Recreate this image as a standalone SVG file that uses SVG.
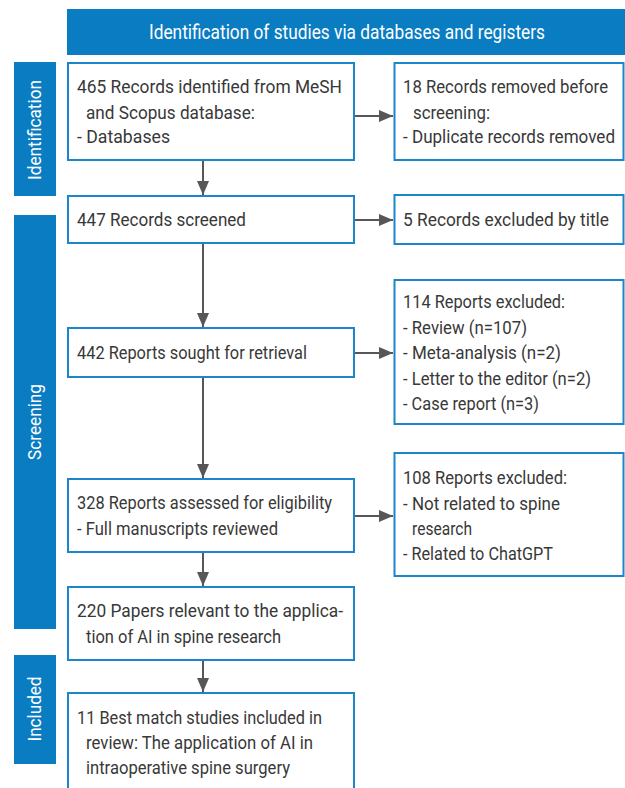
<svg xmlns="http://www.w3.org/2000/svg" width="625" height="788" viewBox="0 0 625 788">
<style>
.bar{fill:#0a7cc2}
.box{fill:#fff;stroke:#1b87ca;stroke-width:2}
.t{font-family:Roboto,"Liberation Sans",sans-serif;font-size:19px;fill:#383838}
.w{font-family:Roboto,"Liberation Sans",sans-serif;fill:#fff}
.c{fill:none;stroke:#575757;stroke-width:2}
</style>
<defs>
<marker id="ah" viewBox="0 0 14 12" refX="14" refY="6" markerWidth="14" markerHeight="12" markerUnits="userSpaceOnUse" orient="auto">
<path d="M0,0 L14,6 L0,12 z" fill="#575757"/>
</marker>
</defs>
<rect width="625" height="788" fill="#fff"/>

<g id="header">
<rect class="bar" x="67" y="9" width="558" height="46"/>
<text class="w" x="149" y="39" font-size="20" textLength="396" lengthAdjust="spacingAndGlyphs">Identification of studies via databases and registers</text>
</g>

<g id="phase-identification">
<rect class="bar" x="14" y="62" width="42" height="134"/>
<text class="w" transform="translate(41,130) rotate(-90)" text-anchor="middle" font-size="19" textLength="100" lengthAdjust="spacingAndGlyphs">Identification</text>
</g>
<g id="phase-screening">
<rect class="bar" x="14" y="215" width="42" height="414"/>
<text class="w" transform="translate(41,422) rotate(-90)" text-anchor="middle" font-size="19" textLength="76" lengthAdjust="spacingAndGlyphs">Screening</text>
</g>
<g id="phase-included">
<rect class="bar" x="14" y="655" width="42" height="109"/>
<text class="w" transform="translate(41,709) rotate(-90)" text-anchor="middle" font-size="19" textLength="65" lengthAdjust="spacingAndGlyphs">Included</text>
</g>

<g id="connectors">
<line class="c" x1="203" y1="160" x2="203" y2="195" marker-end="url(#ah)"/>
<line class="c" x1="203" y1="243" x2="203" y2="327" marker-end="url(#ah)"/>
<line class="c" x1="203" y1="377" x2="203" y2="478" marker-end="url(#ah)"/>
<line class="c" x1="203" y1="552" x2="203" y2="586" marker-end="url(#ah)"/>
<line class="c" x1="203" y1="660" x2="203" y2="692" marker-end="url(#ah)"/>
<line class="c" x1="354" y1="116" x2="393" y2="116" marker-end="url(#ah)"/>
<line class="c" x1="354" y1="220" x2="393" y2="220" marker-end="url(#ah)"/>
<line class="c" x1="354" y1="353" x2="393" y2="353" marker-end="url(#ah)"/>
<line class="c" x1="354" y1="516" x2="393" y2="516" marker-end="url(#ah)"/>
</g>

<g id="records-identified">
<rect class="box" x="68" y="63" width="286" height="97"/>
<text class="t" x="77" y="93" textLength="265" lengthAdjust="spacingAndGlyphs">465 Records identified from MeSH</text>
<text class="t" x="86" y="119" textLength="169" lengthAdjust="spacingAndGlyphs">and Scopus database:</text>
<text class="t" x="77" y="143" textLength="93" lengthAdjust="spacingAndGlyphs">- Databases</text>
</g>
<g id="records-removed">
<rect class="box" x="394.5" y="63" width="229" height="97"/>
<text class="t" x="403" y="93" textLength="205" lengthAdjust="spacingAndGlyphs">18 Records removed before</text>
<text class="t" x="413" y="119" textLength="77" lengthAdjust="spacingAndGlyphs">screening:</text>
<text class="t" x="403" y="143" textLength="212" lengthAdjust="spacingAndGlyphs">- Duplicate records removed</text>
</g>
<g id="records-screened">
<rect class="box" x="68" y="196" width="286" height="47"/>
<text class="t" x="77" y="226" textLength="169" lengthAdjust="spacingAndGlyphs">447 Records screened</text>
</g>
<g id="records-excluded">
<rect class="box" x="394.5" y="195" width="229" height="49"/>
<text class="t" x="403" y="226" textLength="206" lengthAdjust="spacingAndGlyphs">5 Records excluded by title</text>
</g>
<g id="reports-sought">
<rect class="box" x="68" y="328" width="286" height="49"/>
<text class="t" x="77" y="359" textLength="230" lengthAdjust="spacingAndGlyphs">442 Reports sought for retrieval</text>
</g>
<g id="reports-excluded-114">
<rect class="box" x="394.5" y="280" width="229" height="144"/>
<text class="t" x="403" y="308" textLength="162" lengthAdjust="spacingAndGlyphs">114 Reports excluded:</text>
<text class="t" x="403" y="333.5" textLength="124" lengthAdjust="spacingAndGlyphs">- Review (n=107)</text>
<text class="t" x="403" y="359" textLength="158" lengthAdjust="spacingAndGlyphs">- Meta-analysis (n=2)</text>
<text class="t" x="403" y="384.5" textLength="188" lengthAdjust="spacingAndGlyphs">- Letter to the editor (n=2)</text>
<text class="t" x="403" y="410" textLength="136" lengthAdjust="spacingAndGlyphs">- Case report (n=3)</text>
</g>
<g id="reports-assessed">
<rect class="box" x="68" y="479" width="286" height="73"/>
<text class="t" x="77" y="509" textLength="255" lengthAdjust="spacingAndGlyphs">328 Reports assessed for eligibility</text>
<text class="t" x="77" y="535" textLength="201" lengthAdjust="spacingAndGlyphs">- Full manuscripts reviewed</text>
</g>
<g id="reports-excluded-108">
<rect class="box" x="394.5" y="453" width="229" height="123"/>
<text class="t" x="403" y="484" textLength="164" lengthAdjust="spacingAndGlyphs">108 Reports excluded:</text>
<text class="t" x="403" y="509.5" textLength="157" lengthAdjust="spacingAndGlyphs">- Not related to spine</text>
<text class="t" x="412" y="535" textLength="60" lengthAdjust="spacingAndGlyphs">research</text>
<text class="t" x="403" y="560" textLength="150" lengthAdjust="spacingAndGlyphs">- Related to ChatGPT</text>
</g>
<g id="papers-relevant">
<rect class="box" x="68" y="587" width="286" height="73"/>
<text class="t" x="77" y="617" textLength="266" lengthAdjust="spacingAndGlyphs">220 Papers relevant to the applica-</text>
<text class="t" x="86" y="643" textLength="195" lengthAdjust="spacingAndGlyphs">tion of AI in spine research</text>
</g>
<g id="studies-included">
<rect class="box" x="68" y="693" width="286" height="110"/>
<text class="t" x="77" y="724" textLength="245" lengthAdjust="spacingAndGlyphs">11 Best match studies included in</text>
<text class="t" x="86" y="749" textLength="227" lengthAdjust="spacingAndGlyphs">review: The application of AI in</text>
<text class="t" x="86" y="774" textLength="204" lengthAdjust="spacingAndGlyphs">intraoperative spine surgery</text>
</g>
</svg>
